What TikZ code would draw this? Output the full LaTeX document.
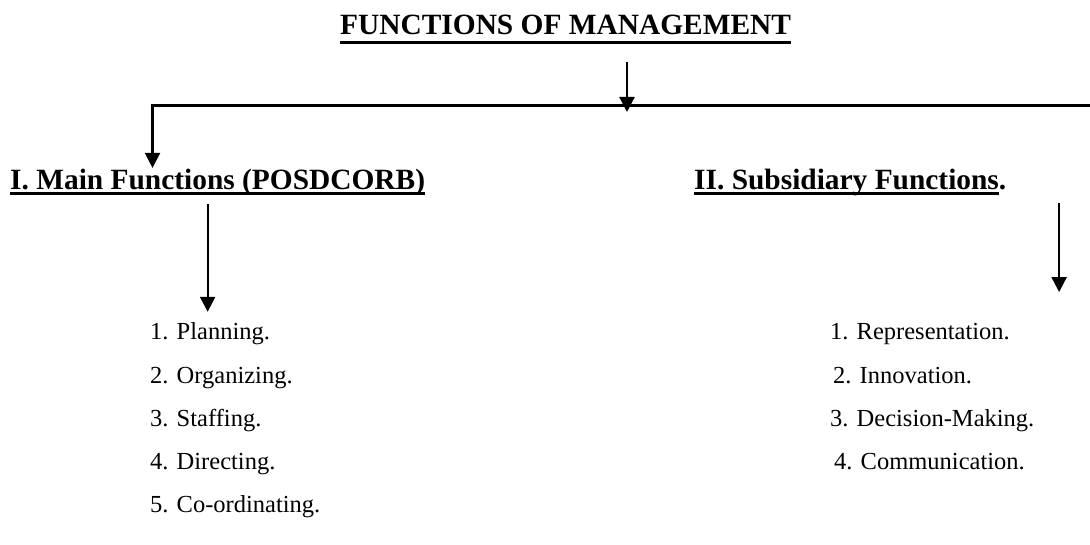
\documentclass[tikz,border=0pt]{standalone}
\usepackage{fontspec}
\setmainfont{Liberation Serif}
\usetikzlibrary{arrows.meta,calc}
\begin{document}
\begin{tikzpicture}[x=1pt,y=-1pt,
  head/.style={anchor=base west,inner sep=0pt,font=\fontsize{29.4}{32}\selectfont\bfseries},
  item/.style={anchor=base west,inner sep=0pt,font=\fontsize{24.5}{28}\selectfont},
  link/.style={line width=2.2pt,line join=miter,-{Triangle[length=15pt,width=15pt]}},
  rule/.style={line width=2.2pt},
  uline/.style={line width=2.8pt}]
\useasboundingbox (0,0) rectangle (1090,545);

% headings
\node[head] (title) at (340,35) {FUNCTIONS OF MANAGEMENT};
\node[head] (h1) at (10,190) {I. Main Functions (POSDCORB)};
\node[head] (h2) at (694,190) {II. Subsidiary Functions\rlap{.}};

% underlines
\draw[uline] ($(title.base west)+(0,7.3)$) -- ($(title.base east)+(0,7.3)$);
\draw[uline] ($(h1.base west)+(0,3.5)$) -- ($(h1.base east)+(0,3.5)$);
\draw[uline] ($(h2.base west)+(0,3.5)$) -- ($(h2.base east)+(0,3.5)$);

% main functions
\node[item] (p1) at (150,340) {1. Planning.};
\node[item] (p2) at (150,383) {2. Organizing.};
\node[item] (p3) at (150,426) {3. Staffing.};
\node[item] (p4) at (150,469) {4. Directing.};
\node[item] (p5) at (150,512) {5. Co-ordinating.};

% subsidiary functions
\node[item] (s1) at (830,340) {1. Representation.};
\node[item] (s2) at (833,383) {2. Innovation.};
\node[item] (s3) at (830,426) {3. Decision-Making.};
\node[item] (s4) at (834,469) {4. Communication.};

% branching bar
\coordinate (jn) at (627,105.5);
\coordinate (lc) at (152.5,105.5);
\coordinate (re) at (1090,105.5);

\draw[link] ($(title.south -| jn)+(0,27)$) -- ($(jn)+(0,6.5)$);
\draw[link] (re) -- (lc) -- ($(lc |- h1.north)+(0,-1.5)$);
\draw[link] ($(h1.south)+(-10,8)$) coordinate (la) -- ($(la |- p1.north)+(0,-11)$);
\draw[link] ($(h2.south east)+(60,6.5)$) -- ++(0,89);
\end{tikzpicture}
\end{document}
